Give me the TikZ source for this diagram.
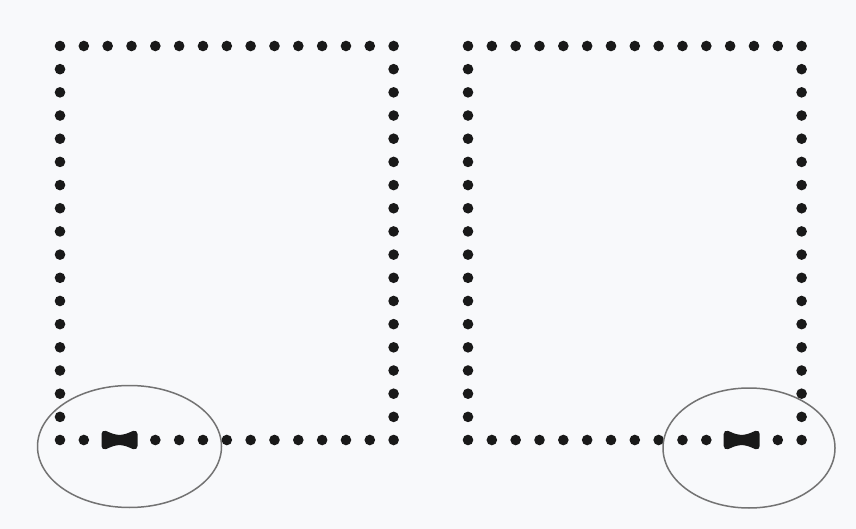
\documentclass[tikz,border=0pt]{standalone}
\usepackage{xcolor}
\usepackage{tikz}
\usetikzlibrary{shapes.geometric}

\definecolor{paper}{RGB}{248,249,251}
\definecolor{ink}{RGB}{25,25,25}

\begin{document}
\begin{tikzpicture}[
  x=1pt, y=-1pt,
  dot/.style={fill=ink},
  tie/.style={fill=ink, rounded corners=5pt},
  loupe/.style={draw=black!55, line width=1.5pt, ellipse, inner sep=0pt}
]
\fill[paper] (0,0) rectangle (856,529);
\useasboundingbox (0,0) rectangle (856,529);

% two dotted frames, two dot places at the bottom taken by a tie
\foreach \fx/\ga/\gb in {60/2/3, 468/11/12} {
  \foreach \i in {0,...,14} {
    \fill[dot] (\fx+\i*23.83, 46) circle (5.3pt);
    \ifnum\i=\ga\else\ifnum\i=\gb\else
      \fill[dot] (\fx+\i*23.83, 440) circle (5.3pt);
    \fi\fi
  }
  \foreach \j in {1,...,16} {
    \fill[dot] (\fx, 46+\j*23.18) circle (5.3pt);
    \fill[dot] (\fx+333.6, 46+\j*23.18) circle (5.3pt);
  }
  \fill[tie] (\fx+11.9*\ga+11.9*\gb-18, 429) -- (\fx+11.9*\ga+11.9*\gb-4, 435)
    -- (\fx+11.9*\ga+11.9*\gb+4, 435) -- (\fx+11.9*\ga+11.9*\gb+18, 429)
    -- (\fx+11.9*\ga+11.9*\gb+18, 451) -- (\fx+11.9*\ga+11.9*\gb+4, 445)
    -- (\fx+11.9*\ga+11.9*\gb-4, 445) -- (\fx+11.9*\ga+11.9*\gb-18, 451) -- cycle;
}

% the two marked places
\node[loupe, minimum width=184pt, minimum height=122pt] (loupeL) at (129.5,446.5) {};
\node[loupe, minimum width=172pt, minimum height=120pt] (loupeR) at (749,448) {};
\end{tikzpicture}
\end{document}
